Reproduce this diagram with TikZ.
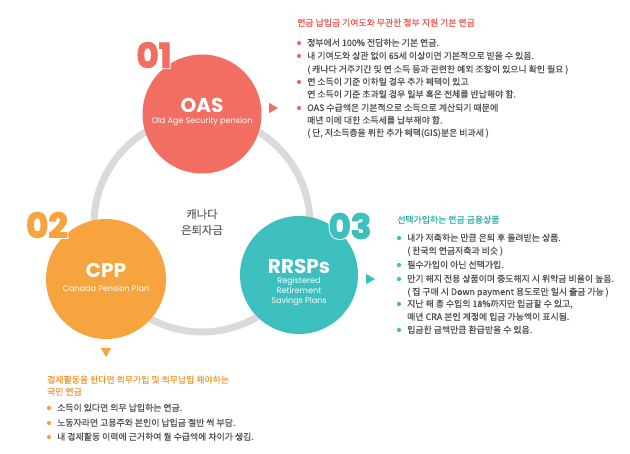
\documentclass[tikz,border=0pt]{standalone}
\usepackage{fontspec}
\setmainfont{Noto Sans CJK KR}[BoldFont={Noto Sans CJK KR}, BoldFeatures={FakeBold=0.6}]
\newfontfamily\pop{Poppins}
\newfontfamily\popnum{Poppins}[BoldFeatures={FakeBold=3.5}]
\newfontfamily\pophalo{Poppins}[BoldFeatures={FakeBold=9}]
\usetikzlibrary{shapes.geometric}
\definecolor{oas}{HTML}{F26D62}
\definecolor{cpp}{HTML}{F8A43E}
\definecolor{rrsp}{HTML}{3CBFBE}
\definecolor{oash}{HTML}{EF5A4E}
\definecolor{cpph}{HTML}{F39A2A}
\definecolor{rrsph}{HTML}{2CB4B3}
\definecolor{ringc}{HTML}{DADADA}
\definecolor{txt}{HTML}{505050}
\definecolor{ctr}{HTML}{666666}
\tikzset{
  bigcirc/.style={circle, inner sep=0pt, minimum size=#1},
  title/.style={text=white, font=\pop\bfseries\fontsize{20}{20}\selectfont},
  subt/.style={text=white, font=\pop\fontsize{8.1}{10}\selectfont, align=center},
  num/.style={font=\popnum\bfseries\fontsize{34}{34}\selectfont, inner sep=0pt},
  halo/.style={font=\pophalo\bfseries\fontsize{34}{34}\selectfont, inner sep=0pt, text=white},
  line/.style={anchor=base west, inner sep=0pt, text=txt, font=\bfseries\fontsize{8.9}{10}\selectfont},
  head/.style={anchor=base west, inner sep=0pt, font=\bfseries\fontsize{8.9}{10}\selectfont},
  bul/.style={circle, inner sep=0pt, minimum size=4.2pt},
  tri/.style={isosceles triangle, isosceles triangle apex angle=60, inner sep=0pt, minimum height=9pt, minimum width=10pt},
}
\begin{document}
\begin{tikzpicture}[x=1pt,y=-1pt]
\useasboundingbox[fill=white] (0,0) rectangle (630,454);
% ring
\node[bigcirc=216pt, draw=ringc, line width=7pt] (ring) at (202,224) {};
\node[align=center, text=ctr, font=\bfseries\fontsize{11.3}{16}\selectfont] (center) at (202,222) {캐나다\\은퇴자금};
% circles
\node[bigcirc=119pt, fill=oas] (oas) at (202,114) {};
\node[bigcirc=120pt, fill=cpp] (cpp) at (106,279) {};
\node[bigcirc=118pt, fill=rrsp] (rrsp) at (299,275) {};
% numbers
\node[halo] (h1) at (154,55) {01};
\node[halo] (h2) at (47,225) {02};
\node[halo] (h3) at (350,226) {03};
\node[num, text=oas] (n1) at (154,55) {01};
\node[num, text=cpp] (n2) at (47,225) {02};
\node[num, text=rrsp] (n3) at (350,226) {03};
% titles
\node[title] (oast) at (202,105) {OAS};
\node[subt] (oass) at (202,122) {Old Age Security pension};
\node[title] (cppt) at (106,270) {CPP};
\node[subt] (cpps) at (106,288) {Canada Pension Plan};
\node[title] (rrspt) at (299,266) {RRSPs};
\node[subt] (rrsps) at (299,292) {Registered\\Retirement\\Savings Plans};
% triangles
\node[tri, fill=oas] (t1) at (272,108) {};
\node[tri, fill=rrsp] (t3) at (369,279) {};
\node[tri, fill=cpp, shape border rotate=-90] (t2) at (106,351) {};
% OAS text
\node[head, text=oash] (oh) at (297,26) {연금 납입금 기여도와 무관한 정부 지원 기본 연금};
\node[bul, fill=oas] (ob1) at (299,43) {};
\node[line] (o1) at (307,46) {정부에서 100\% 전담하는 기본 연금.};
\node[bul, fill=oas] (ob2) at (299,56) {};
\node[line] (o2) at (307,59) {내 기여도와 상관 없이 65세 이상이면 기본적으로 받을 수 있음.};
\node[line] (o3) at (307,72.5) {( 캐나다 거주기간 및 연 소득 등과 관련한 예외 조항이 있으니 확인 필요 )};
\node[bul, fill=oas] (ob4) at (299,82) {};
\node[line] (o4) at (307,85) {연 소득이 기준 이하일 경우 추가 혜택이 있고};
\node[line] (o5) at (307,97.5) {연 소득이 기준 초과일 경우 일부 혹은 전체를 반납해야 함.};
\node[bul, fill=oas] (ob6) at (299,108) {};
\node[line] (o6) at (307,111) {OAS 수급액은 기본적으로 소득으로 계산되기 때문에};
\node[line] (o7) at (307,123.5) {매년 이에 대한 소득세를 납부해야 함.};
\node[line] (o8) at (307,136) {( 단, 저소득층을 위한 추가 혜택(GIS)분은 비과세 )};
% RRSP text
\node[head, text=rrsph] (rh) at (397,223) {선택가입하는 연금 금융상품};
\node[bul, fill=rrsp] (rb1) at (399,238) {};
\node[line] (r1) at (407,241) {내가 저축하는 만큼 은퇴 후 돌려받는 상품.};
\node[line] (r2) at (407,254) {( 한국의 연금저축과 비슷 )};
\node[bul, fill=rrsp] (rb3) at (399,265) {};
\node[line] (r3) at (407,268) {필수가입이 아닌 선택가입.};
\node[bul, fill=rrsp] (rb4) at (399,279) {};
\node[line] (r4) at (407,282) {만기 해지 전용 상품이며 중도해지 시 위약금 비율이 높음.};
\node[line] (r5) at (407,295) {( 집 구매 시 Down payment 용도로만 일시 출금 가능 )};
\node[bul, fill=rrsp] (rb6) at (399,304) {};
\node[line] (r6) at (407,307) {지난 해 총 수입의 18\%까지만 입금할 수 있고,};
\node[line] (r7) at (407,320) {매년 CRA 본인 계정에 입금 가능액이 표시됨.};
\node[bul, fill=rrsp] (rb8) at (399,330) {};
\node[line] (r8) at (407,333) {입금한 금액만큼 환급받을 수 있음.};
% CPP text
\node[head, text=cpph] (ch1) at (47,383) {경제활동을 한다면 의무가입 및 의무납입 해야하는};
\node[head, text=cpph] (ch2) at (47,395) {국민 연금};
\node[bul, fill=cpp] (cb1) at (49,408) {};
\node[line] (c1) at (57,411) {소득이 있다면 의무 납입하는 연금.};
\node[bul, fill=cpp] (cb2) at (49,423) {};
\node[line] (c2) at (57,426) {노동자라면 고용주와 본인이 납입금 절반 씩 부담.};
\node[bul, fill=cpp] (cb3) at (49,437) {};
\node[line] (c3) at (57,440) {내 경제활동 이력에 근거하여 월 수급액에 차이가 생김.};
\end{tikzpicture}
\end{document}
